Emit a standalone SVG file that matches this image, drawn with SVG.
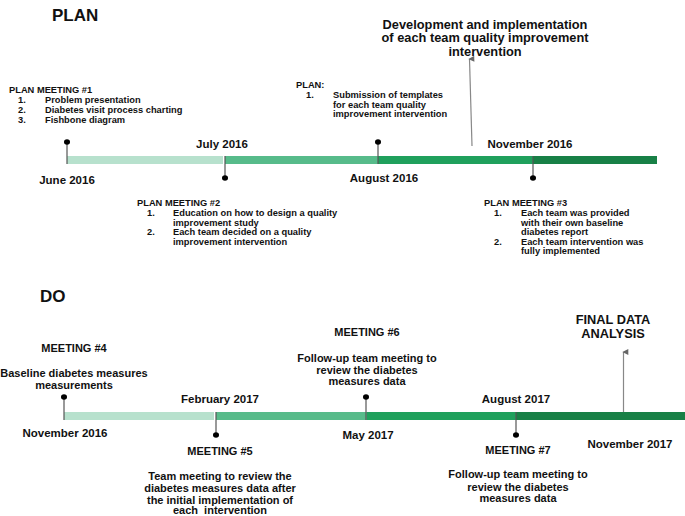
<svg xmlns="http://www.w3.org/2000/svg" width="685" height="516" viewBox="0 0 685 516">
<style>
text{font-family:"Liberation Sans",Arial,sans-serif;font-weight:bold;fill:#111}
.h{font-size:17px}
.d{font-size:11.5px}
.s{font-size:9.3px}
.m{font-size:11px}
.b{font-size:12.8px}
.c{text-anchor:middle}
.stem{stroke:#555;stroke-width:1.2}
.dot{fill:#000}
.arr{stroke:#888;stroke-width:1.2;fill:none}
</style>
<defs>
<marker id="ah" viewBox="0 0 10 10" refX="5" refY="2" markerWidth="6" markerHeight="7" orient="auto-start-reverse" markerUnits="userSpaceOnUse">
<path d="M0,10 L5,0 L10,10 Z" fill="#666"/>
</marker>
</defs>
<rect width="685" height="516" fill="#fff"/>

<text class="h" x="52" y="21">PLAN</text>
<text class="h" x="40" y="302">DO</text>

<g id="plan-bar">
<rect x="67" y="156" width="156" height="8" fill="#b7e1cd"/>
<rect x="225" y="156" width="153" height="8" fill="#57bb8a"/>
<rect x="378" y="156" width="155" height="8" fill="#1fa05c"/>
<rect x="533" y="156" width="124" height="8" fill="#188046"/>
</g>
<g id="do-bar">
<rect x="64" y="412" width="150" height="8" fill="#b7e1cd"/>
<rect x="216" y="412" width="151" height="8" fill="#57bb8a"/>
<rect x="367" y="412" width="149" height="8" fill="#1fa05c"/>
<rect x="516" y="412" width="169" height="8" fill="#188046"/>
</g>

<g id="connectors">
<line class="stem" x1="67" y1="142" x2="67" y2="164"/>
<line class="stem" x1="225" y1="156" x2="225" y2="178"/>
<line class="stem" x1="378" y1="142" x2="378" y2="164"/>
<line class="stem" x1="533" y1="156" x2="533" y2="178"/>
<line class="stem" x1="64" y1="396" x2="64" y2="420"/>
<line class="stem" x1="216" y1="412" x2="216" y2="436"/>
<line class="stem" x1="366" y1="396" x2="366" y2="420"/>
<line class="stem" x1="516" y1="412" x2="516" y2="436"/>
<line class="arr" x1="472" y1="146" x2="469.5" y2="59" marker-end="url(#ah)"/>
<line class="arr" x1="623.5" y1="412" x2="623.5" y2="352" marker-end="url(#ah)"/>
</g>

<g id="dots">
<ellipse class="dot" cx="67" cy="142" rx="3" ry="2.7"/>
<ellipse class="dot" cx="225" cy="178" rx="3" ry="2.7"/>
<ellipse class="dot" cx="378" cy="142" rx="3" ry="2.7"/>
<ellipse class="dot" cx="533" cy="178" rx="3" ry="2.7"/>
<ellipse class="dot" cx="64" cy="397" rx="3" ry="2.7"/>
<ellipse class="dot" cx="216" cy="435" rx="3" ry="2.7"/>
<ellipse class="dot" cx="366" cy="397" rx="3" ry="2.7"/>
<ellipse class="dot" cx="516" cy="435" rx="3" ry="2.7"/>
</g>

<g id="plan-dates">
<text class="d c" x="67" y="183.5">June 2016</text>
<text class="d c" x="222" y="148">July 2016</text>
<text class="d c" x="384" y="181.5">August 2016</text>
<text class="d c" x="530" y="148">November 2016</text>
</g>

<g id="plan-meeting-1">
<text class="s" x="9" y="93">PLAN MEETING #1</text>
<text class="s" x="18" y="103">1.</text><text class="s" x="45" y="103">Problem presentation</text>
<text class="s" x="18" y="113">2.</text><text class="s" x="45" y="113">Diabetes visit process charting</text>
<text class="s" x="18" y="122.5">3.</text><text class="s" x="45" y="122.5">Fishbone diagram</text>
</g>

<g id="plan-meeting-2">
<text class="s" x="137" y="206">PLAN MEETING #2</text>
<text class="s" x="147" y="216">1.</text><text class="s" x="173" y="216">Education on how to design a quality</text>
<text class="s" x="173" y="225.5">improvement study</text>
<text class="s" x="147" y="235">2.</text><text class="s" x="173" y="235">Each team decided on a quality</text>
<text class="s" x="173" y="244.5">improvement intervention</text>
</g>

<g id="plan-submission">
<text class="s" x="296" y="88">PLAN:</text>
<text class="s" x="306" y="98">1.</text><text class="s" x="333" y="98">Submission of templates</text>
<text class="s" x="333" y="107.5">for each team quality</text>
<text class="s" x="333" y="117">improvement intervention</text>
</g>

<g id="plan-meeting-3">
<text class="s" x="484" y="206">PLAN MEETING #3</text>
<text class="s" x="494" y="216">1.</text><text class="s" x="521" y="216">Each team was provided</text>
<text class="s" x="521" y="225.5">with their own baseline</text>
<text class="s" x="521" y="235">diabetes report</text>
<text class="s" x="494" y="244.5">2.</text><text class="s" x="521" y="244.5">Each team intervention was</text>
<text class="s" x="521" y="254">fully implemented</text>
</g>

<g id="development">
<text class="b c" x="485" y="28.5">Development and implementation</text>
<text class="b c" x="485" y="42">of each team quality improvement</text>
<text class="b c" x="485" y="55.5">intervention</text>
</g>

<g id="do-dates">
<text class="d c" x="65" y="437">November 2016</text>
<text class="d c" x="220" y="403">February 2017</text>
<text class="d c" x="368" y="439">May 2017</text>
<text class="d c" x="516" y="403">August 2017</text>
<text class="d c" x="630" y="448">November 2017</text>
</g>

<g id="meeting-4">
<text class="m c" x="74" y="352">MEETING #4</text>
<text class="m c" x="74" y="377">Baseline diabetes measures</text>
<text class="m c" x="74" y="389">measurements</text>
</g>

<g id="meeting-5">
<text class="m c" x="220" y="455">MEETING #5</text>
<text class="m c" x="220" y="480">Team meeting to review the</text>
<text class="m c" x="220" y="492">diabetes measures data after</text>
<text class="m c" x="220" y="503.5">the initial implementation of</text>
<text class="m c" x="220" y="514" style="white-space:pre">each  intervention</text>
</g>

<g id="meeting-6">
<text class="m c" x="367" y="336">MEETING #6</text>
<text class="m c" x="367" y="362">Follow-up team meeting to</text>
<text class="m c" x="367" y="374">review the diabetes</text>
<text class="m c" x="367" y="385">measures data</text>
</g>

<g id="meeting-7">
<text class="m c" x="518" y="454">MEETING #7</text>
<text class="m c" x="518" y="478">Follow-up team meeting to</text>
<text class="m c" x="518" y="490.5">review the diabetes</text>
<text class="m c" x="518" y="502">measures data</text>
</g>

<g id="final">
<text class="b c" x="613" y="324">FINAL DATA</text>
<text class="b c" x="613" y="338">ANALYSIS</text>
</g>
</svg>
